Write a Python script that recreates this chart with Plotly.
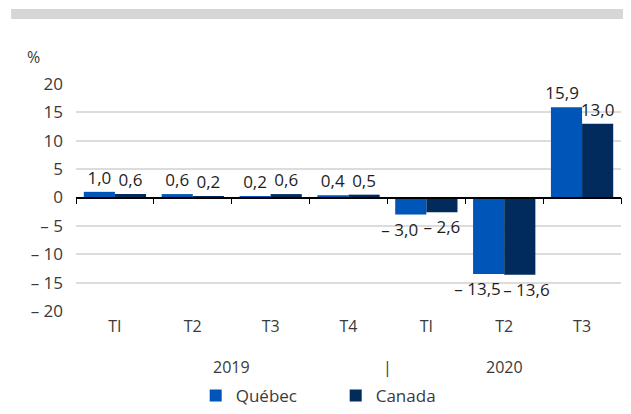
import plotly.graph_objects as go

categories = ["2019 TI", "2019 T2", "2019 T3", "2019 T4", "2020 TI", "2020 T2", "2020 T3"]
quarter_labels = ["TI", "T2", "T3", "T4", "TI", "T2", "T3"]
years = ["2019", "2020"]
quebec = [1.0, 0.6, 0.2, 0.4, -3.0, -13.5, 15.9]
canada = [0.6, 0.2, 0.6, 0.5, -2.6, -13.6, 13.0]
y_ticks = [-20, -15, -10, -5, 0, 5, 10, 15, 20]

FONT = "Open Sans"
BLUE = "#0055b8"
NAVY = "#002b5c"
GREY = "#3a3a3a"
NB = "\u00a0"


def fr(v):
    # french style: comma decimal, spaced en dash for negatives
    s = f"{abs(v):.1f}".replace(".", ",")
    return "\u2013 " + s if v < 0 else s


def fr_int(v):
    return "\u2013 " + str(abs(v)) if v < 0 else str(v)


# labels nudged sideways (with padding) so neighbours don't collide, as in the original
q_text = [fr(v) + NB * 5 if v < 0 else fr(v) for v in quebec]
q_text[-1] = fr(quebec[-1]) + NB * 2
c_text = [NB * 3 + fr(v) if v < -10 else fr(v) for v in canada]

fig = go.Figure()
for name, vals, txt, col in [("Québec", quebec, q_text, BLUE), ("Canada", canada, c_text, NAVY)]:
    fig.add_trace(go.Bar(
        x=categories, y=vals, name=name, marker_color=col, marker_line_width=0,
        text=txt, textposition="outside", constraintext="none",
        cliponaxis=False, textfont=dict(family=FONT, size=17, color="#1e1e1e"),
    ))

# dummy trace so the zero-line axis with ticks gets drawn
fig.add_trace(go.Scatter(x=[], y=[], xaxis="x2", showlegend=False, hoverinfo="skip"))

# page body adds an 8px offset, so the figure is a bit smaller and shifted
fig.update_layout(
    width=623, height=406,
    margin=dict(l=68, r=10, t=76, b=103, autoexpand=False),
    paper_bgcolor="white", plot_bgcolor="white",
    font=dict(family=FONT, size=17, color=GREY),
    barmode="group", bargap=0.2, bargroupgap=0,
    xaxis=dict(
        type="category", tickvals=categories, ticktext=quarter_labels,
        showline=False, showgrid=False, ticks="", zeroline=False,
        tickfont=dict(size=16, color=GREY), ticklabelstandoff=4,
    ),
    xaxis2=dict(
        overlaying="x", anchor="free", position=0.5, range=[-0.5, 6.5],
        tickvals=[i - 0.5 for i in range(len(categories) + 1)],
        ticks="outside", ticklen=6, tickcolor="black", tickwidth=1,
        showticklabels=False, showline=True, linecolor="black", linewidth=1.5,
        showgrid=False, zeroline=False,
    ),
    yaxis=dict(
        range=[-20, 20], tickvals=y_ticks, ticktext=[fr_int(v) for v in y_ticks],
        showgrid=True, gridcolor="#dcdcdc", gridwidth=1.5, zeroline=False,
        ticks="", tickfont=dict(size=17, color=GREY), ticklabelstandoff=12,
    ),
    legend=dict(
        orientation="h", xref="container", x=0.526, xanchor="center",
        yref="container", y=-0.045, yanchor="bottom",
        font=dict(size=17, color=GREY), entrywidth=95,
    ),
    showlegend=True,
)

fig.add_annotation(text="%", xref="paper", yref="paper", x=0, y=1, xanchor="center",
                   yanchor="middle", xshift=-43, yshift=27,
                   showarrow=False, font=dict(size=16, color=GREY))
for txt, xpos in [(years[0], 1.5), (years[1], 5), ("|", 3.5)]:
    fig.add_annotation(text=txt, x=xpos, xref="x", yref="paper", y=0, yanchor="middle",
                       yshift=-56, showarrow=False, font=dict(size=16, color=GREY))

fig.add_shape(type="rect", xref="paper", yref="paper", x0=-0.119, x1=1.02, y0=1.286, y1=1.33,
              fillcolor="#d6d6d6", line_width=0, layer="above")

fig.write_html("out.html")
